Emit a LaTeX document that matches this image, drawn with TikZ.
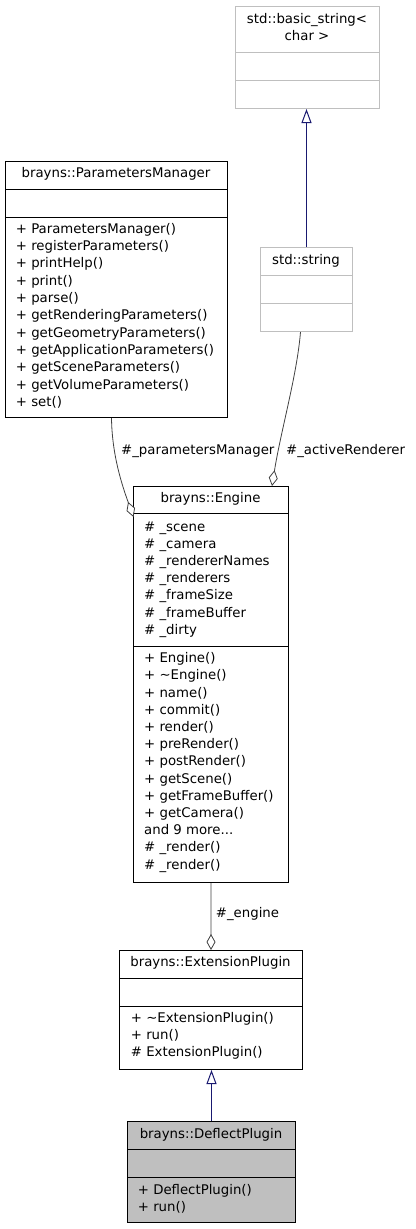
\documentclass[tikz,border=0pt]{standalone}
\usepackage{fontspec}
\setmainfont{DejaVu Sans}
\usetikzlibrary{arrows.meta}
\definecolor{edgeblue}{HTML}{191970}
\definecolor{edgegrey}{HTML}{404040}
\definecolor{boxgrey}{HTML}{BFBFBF}
\tikzset{
  classbox/.style={draw=black, line width=1bp, fill=white, inner sep=0pt, anchor=north west},
  greybox/.style={classbox, draw=boxgrey},
  hitbox/.style={classbox, fill=boxgrey},
  txt/.style={inner sep=0pt, font=\fontsize{13.3bp}{16bp}\selectfont, text=black},
  member/.style={txt, anchor=base west},
  ctitle/.style={txt, anchor=base},
  sep/.style={line width=1bp},
  inherit/.style={draw=edgeblue, line width=1bp, -{Triangle[open, length=14bp, width=10bp]}},
  aggr/.style={draw=edgegrey, line width=0.8bp, -{Diamond[fill=white, length=16bp, width=9bp]}},
}
\begin{document}
\begin{tikzpicture}[x=1bp, y=-1bp]
\useasboundingbox (0,0) rectangle (415,1229);

% std::basic_string<char>
\node[greybox, minimum width=144bp, minimum height=102bp] (bs) at (235,6) {};
\draw[sep, boxgrey] (bs.west |- 0,52) -- (bs.east |- 0,52);
\draw[sep, boxgrey] (bs.west |- 0,80) -- (bs.east |- 0,80);
\node[ctitle] (bst1) at (307,23.6) {std::basic\_string<};
\node[ctitle] (bst2) at (307,40.3) {char >};

% std::string
\node[greybox, minimum width=92bp, minimum height=84bp] (str) at (260,247) {};
\draw[sep, boxgrey] (str.west |- 0,275) -- (str.east |- 0,275);
\draw[sep, boxgrey] (str.west |- 0,303) -- (str.east |- 0,303);
\node[ctitle] (strt) at (306,264.8) {std::string};

% brayns::ParametersManager
\node[classbox, minimum width=222bp, minimum height=256bp] (pm) at (5,161) {};
\draw[sep] (pm.west |- 0,189) -- (pm.east |- 0,189);
\draw[sep] (pm.west |- 0,217) -- (pm.east |- 0,217);
\node[ctitle] (pmt) at (116,177.6) {brayns::ParametersManager};
\foreach \t [count=\i from 0] in {+ ParametersManager(), + registerParameters(), + printHelp(), + print(), + parse(), + getRenderingParameters(), + getGeometryParameters(), + getApplicationParameters(), + getSceneParameters(), + getVolumeParameters(), + set()}
  \node[member] (pmm\i) at (15.7, 233.3+17.3*\i) {\t};

% brayns::Engine
\node[classbox, minimum width=155bp, minimum height=396bp] (eng) at (133,486) {};
\draw[sep] (eng.west |- 0,513) -- (eng.east |- 0,513);
\draw[sep] (eng.west |- 0,646) -- (eng.east |- 0,646);
\node[ctitle] (engt) at (210.5,502.6) {brayns::Engine};
\foreach \t [count=\i from 0] in {\# \_scene, \# \_camera, \# \_rendererNames, \# \_renderers, \# \_frameSize, \# \_frameBuffer, \# \_dirty}
  \node[member] (engf\i) at (144, 531+17.2*\i) {\t};
\foreach \t [count=\i from 0] in {+ Engine(), + \textasciitilde Engine(), + name(), + commit(), + render(), + preRender(), + postRender(), + getScene(), + getFrameBuffer(), + getCamera(), and 9 more.{}.{}., \# \_render(), \# \_render()}
  \node[member] (engm\i) at (144, 662.6+17.2*\i) {\t};

% brayns::ExtensionPlugin
\node[classbox, minimum width=183bp, minimum height=119bp] (ext) at (119,950) {};
\draw[sep] (ext.west |- 0,978) -- (ext.east |- 0,978);
\draw[sep] (ext.west |- 0,1006) -- (ext.east |- 0,1006);
\node[ctitle] (extt) at (210.5,966) {brayns::ExtensionPlugin};
\foreach \t [count=\i from 0] in {+ \textasciitilde ExtensionPlugin(), + run(), \# ExtensionPlugin()}
  \node[member] (extm\i) at (130.7, 1022.3+17.3*\i) {\t};

% brayns::DeflectPlugin
\node[hitbox, minimum width=168bp, minimum height=101bp] (defl) at (127,1121) {};
\draw[sep] (defl.west |- 0,1149) -- (defl.east |- 0,1149);
\draw[sep] (defl.west |- 0,1177) -- (defl.east |- 0,1177);
\node[ctitle] (deflt) at (211,1138.3) {brayns::DeflectPlugin};
\foreach \t [count=\i from 0] in {+ DeflectPlugin(), + run()}
  \node[member] (deflm\i) at (137.7, 1194.3+17.3*\i) {\t};

% connectors
\draw[inherit] (str.north) -- (str.north |- bs.south);
\draw[inherit] (defl.north) -- (defl.north |- ext.south);
\coordinate (pmstart) at ([xshift=-5bp]pm.south);
\coordinate (engl) at (133.5,517);
\draw[aggr] (pmstart) .. controls (112,455) and (122,485) .. (engl);
\coordinate (strstart) at ([xshift=-6bp]str.south);
\coordinate (engtop) at (272,0 |- eng.north);
\draw[aggr] (strstart) .. controls (297,375) and (281,430) .. (engtop);
\draw[aggr] (eng.south) -- (ext.north);

% edge labels
\node[member] (lpm) at (121,454.3) {\#\_parametersManager};
\node[member] (lar) at (286,454.3) {\#\_activeRenderer};
\node[member] (leng) at (215.7,917.6) {\#\_engine};
\end{tikzpicture}
\end{document}
